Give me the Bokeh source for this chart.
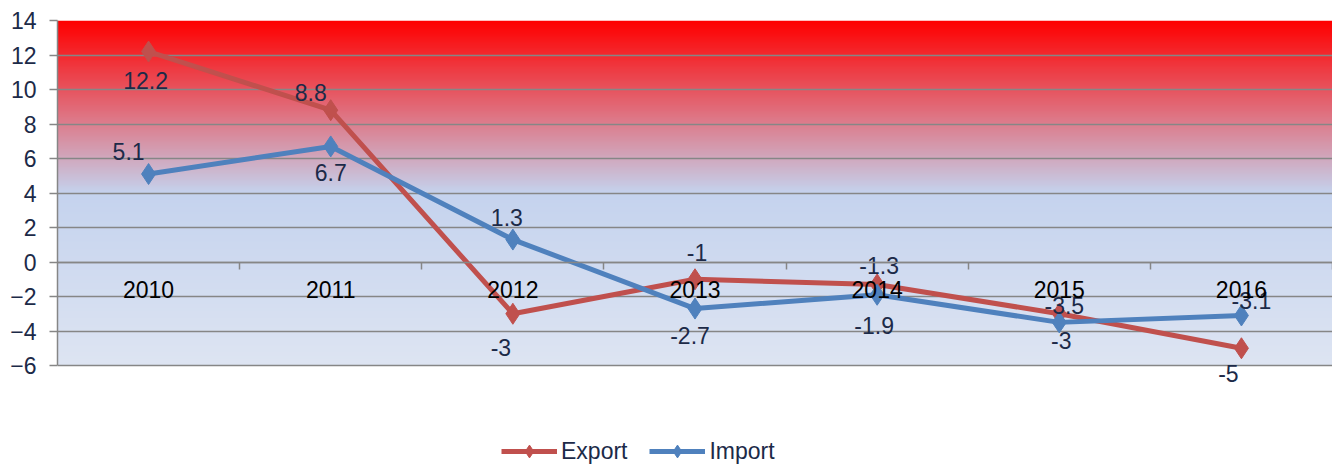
import numpy as np
from bokeh.plotting import figure
from bokeh.models import (ColumnDataSource, LinearAxis, FixedTicker, Legend, LegendItem, Range1d)
from bokeh.core.properties import value
from bokeh.embed import file_html
from bokeh.resources import INLINE

# ---- data ----
years = ["2010", "2011", "2012", "2013", "2014", "2015", "2016"]
export_vals = [12.2, 8.8, -3, -1, -1.3, -3, -5]
import_vals = [5.1, 6.7, 1.3, -2.7, -1.9, -3.5, -3.1]
y_ticks = [-6, -4, -2, 0, 2, 4, 6, 8, 10, 12, 14]

# ---- label placement (style, screen pixels; +dy = down) ----
exp_dx = [-3, -20, -12, 2, 2, 2, -13]
exp_dy = [29, -18, 34, -27, -19, 27, 25]
imp_dx = [-20, 0, -6, -5, -3, 5, 10]
imp_dy = [-23, 26, -22, 27, 31, -17, -15]

FONT = "Liberation Sans"
FS = "23px"
NAVY = "#1c2a48"
GRID = "#868686"
RED = "#c0504d"
BLUE = "#4f81bd"

n = len(years)
xs = list(range(n))
ymin, ymax = y_ticks[0], y_ticks[-1]

W, H = 1332, 467
TOP = 20
AXIS_PX = 345  # pixel height of the -6..14 band
px_per_unit = AXIS_PX / (ymax - ymin)
y_view_lo = ymax - (H - TOP) / px_per_unit  # frame extends down to hold legend

p = figure(width=W, height=H, output_backend="svg", toolbar_location=None,
           x_range=Range1d(-0.5, n - 0.5), y_range=Range1d(y_view_lo, ymax),
           min_border_left=57, min_border_right=0, min_border_top=TOP, min_border_bottom=0,
           x_axis_location=None)
p.outline_line_color = None
p.background_fill_color = None
p.border_fill_color = "white"

# gradient background
N = 400
yy = np.linspace(ymin, ymax, N)
lo = np.array([222, 229, 243], float)
mid = np.array([197, 211, 238], float)
hi = np.array([255, 0, 0], float)
cols = np.zeros((N, 3))
for i, y in enumerate(yy):
    if y <= 4:
        t = (y - ymin) / (4 - ymin)
        cols[i] = lo + (mid - lo) * t
    else:
        t = (y - 4) / (ymax - 4)
        cols[i] = mid + (hi - mid) * t
img = np.zeros((N, 1), dtype=np.uint32)
view = img.view(dtype=np.uint8).reshape((N, 1, 4))
view[:, 0, 0] = cols[:, 0].astype(np.uint8)
view[:, 0, 1] = cols[:, 1].astype(np.uint8)
view[:, 0, 2] = cols[:, 2].astype(np.uint8)
view[:, 0, 3] = 255
p.image_rgba(image=[img], x=-0.5, y=ymin, dw=n, dh=ymax - ymin, level="image")

# grid
p.ygrid.ticker = FixedTicker(ticks=y_ticks)
p.ygrid.grid_line_color = GRID
p.ygrid.grid_line_width = 1.5
p.ygrid.level = "underlay"
p.xgrid.visible = False

# y axis (limited to the data band)
ya = p.yaxis[0]
ya.ticker = FixedTicker(ticks=y_ticks)
ya.bounds = (ymin, ymax)
ya.axis_line_color = GRID
ya.axis_line_width = 1.5
ya.major_tick_line_color = GRID
ya.major_tick_line_width = 1.5
ya.major_tick_out = 8
ya.major_tick_in = 0
ya.minor_tick_line_color = None
ya.major_label_text_font = FONT
ya.major_label_text_font_size = FS
ya.major_label_text_color = NAVY
ya.major_label_standoff = 13

# x axis at y=0: ticks at category boundaries, labels at category centres
xa_ticks = LinearAxis(fixed_location=0, ticker=FixedTicker(ticks=[i + 0.5 for i in xs]),
                      axis_line_color=GRID, axis_line_width=1.5,
                      major_tick_line_color=GRID, major_tick_line_width=1.5,
                      major_tick_out=7, major_tick_in=0, minor_tick_line_color=None,
                      major_label_text_alpha=0)
p.add_layout(xa_ticks, "below")
xa_lab = LinearAxis(fixed_location=0, ticker=FixedTicker(ticks=xs),
                    major_label_overrides={i: y for i, y in enumerate(years)},
                    axis_line_color=None, major_tick_line_color=None, minor_tick_line_color=None,
                    major_label_text_font=FONT, major_label_text_font_size=FS,
                    major_label_text_color="black", major_label_standoff=13)
p.add_layout(xa_lab, "below")

# series
src_e = ColumnDataSource(dict(x=xs, y=export_vals, t=[f"{v:g}" for v in export_vals], dx=exp_dx, dy=exp_dy))
src_i = ColumnDataSource(dict(x=xs, y=import_vals, t=[f"{v:g}" for v in import_vals], dx=imp_dx, dy=imp_dy))

le = p.line("x", "y", source=src_e, line_color=RED, line_width=5)
me = p.scatter("x", "y", source=src_e, marker="diamond", size=21, fill_color=RED, line_color=RED)
li = p.line("x", "y", source=src_i, line_color=BLUE, line_width=5)
mi = p.scatter("x", "y", source=src_i, marker="diamond", size=21, fill_color=BLUE, line_color=BLUE)

for s in (src_e, src_i):
    p.text("x", "y", text="t", source=s, x_offset="dx", y_offset="dy",
           text_font=value(FONT), text_font_size=FS, text_color=NAVY,
           text_align="center", text_baseline="middle")

legend = Legend(items=[LegendItem(label="Export", renderers=[le, me]),
                       LegendItem(label="Import", renderers=[li, mi])],
                orientation="horizontal", location=(444, 0),
                glyph_width=56, glyph_height=32, label_height=22, label_standoff=4,
                spacing=22, padding=0, margin=0,
                border_line_color=None, background_fill_alpha=0,
                label_text_font=FONT, label_text_font_size=FS, label_text_color=NAVY)
p.add_layout(legend, "center")

open("out.html", "w").write(file_html(p, INLINE))
